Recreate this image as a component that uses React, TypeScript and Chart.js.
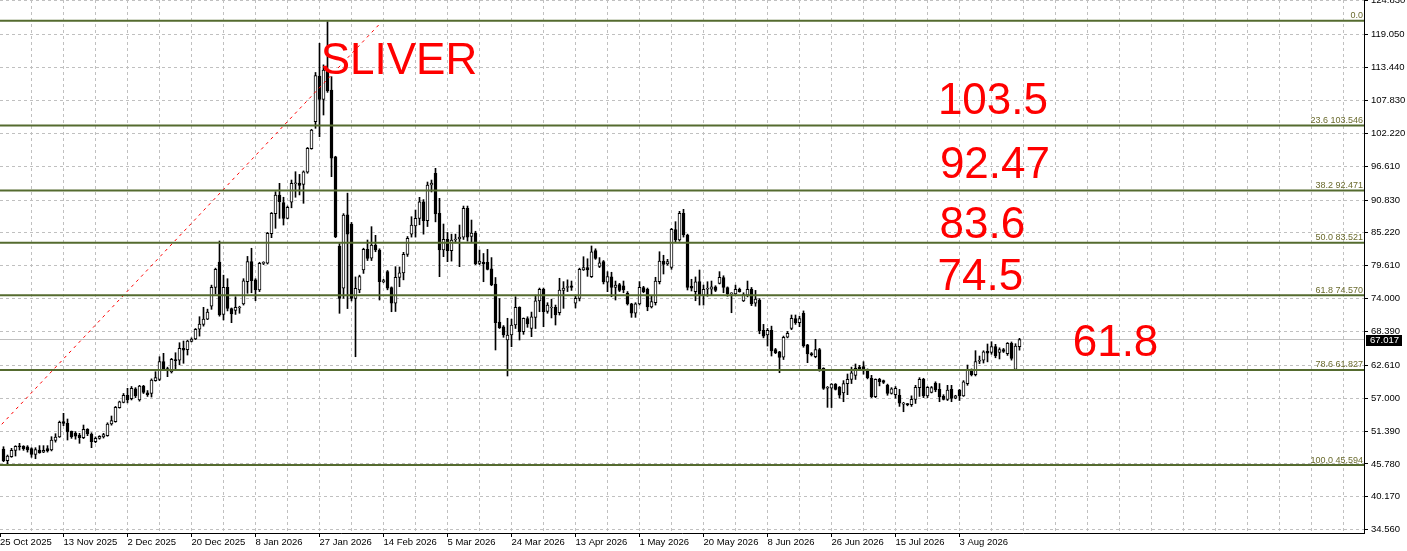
import React, { useEffect, useRef } from "react";
import { Chart, registerables } from "chart.js";

Chart.register(...registerables);

// ---- Candle data (one value per bar) ----
const opens = [
  48.33, 46.33, 47.01, 48.10, 48.79, 48.79, 48.70, 48.38, 47.42, 48.15,
  47.80, 48.40, 48.15, 49.80, 50.38, 53.00, 52.71, 51.35, 51.00, 50.71,
  50.25, 51.69, 50.89, 49.57, 50.15, 50.40, 50.60, 52.60, 53.00, 55.40,
  56.30, 57.50, 56.90, 58.60, 56.70, 59.08, 57.90, 57.80, 60.00, 60.20,
  63.23, 62.00, 61.50, 63.60, 63.50, 65.50, 65.30, 66.70, 67.10, 68.80,
  69.60, 70.50, 72.70, 75.90, 80.25, 71.30, 75.93, 72.30, 72.00, 72.40,
  73.10, 76.90, 80.30, 77.20, 75.50, 80.00, 80.03, 85.10, 88.50, 91.68,
  90.40, 87.70, 90.44, 93.60, 93.70, 93.50, 95.60, 99.60, 104.20, 112.00,
  108.00, 113.00, 109.60, 98.20, 82.98, 75.76, 88.30, 86.70, 74.05, 75.50,
  78.90, 82.40, 80.90, 83.15, 82.30, 76.90, 78.60, 75.90, 73.20, 77.60,
  78.40, 81.56, 85.00, 86.40, 87.70, 90.50, 87.30, 93.40, 95.39, 88.56,
  82.30, 84.10, 82.20, 84.00, 84.20, 84.50, 89.40, 84.60, 85.20, 80.00,
  80.20, 80.20, 79.10, 76.50, 70.00, 69.20, 66.93, 67.80, 69.50, 72.50,
  68.35, 70.60, 68.90, 70.80, 73.60, 75.60, 71.80, 72.40, 72.50, 71.60,
  75.40, 75.90, 76.20, 73.20, 74.05, 78.90, 79.30, 77.74, 82.20, 79.50,
  80.30, 76.80, 77.70, 75.90, 76.40, 76.20, 74.90, 73.10, 71.50, 73.10,
  75.90, 75.60, 72.60, 73.30, 76.90, 80.40, 79.90, 79.34, 85.80, 84.00,
  88.56, 84.86, 76.10, 75.20, 76.90, 74.60, 75.60, 75.60, 76.00, 76.60,
  77.60, 75.90, 74.80, 74.80, 75.60, 73.60, 74.60, 75.60, 73.20, 73.76,
  68.60, 67.80, 68.60, 65.30, 64.90, 64.00, 67.40, 68.90, 70.60, 69.90,
  71.50, 66.10, 64.60, 64.10, 65.30, 62.10, 58.70, 58.70, 59.40, 58.90,
  57.90, 59.50, 60.20, 60.90, 62.30, 62.40, 61.80, 60.40, 57.25, 60.20,
  60.00, 59.25, 57.80, 57.60, 57.50, 56.00, 56.00, 55.90, 56.80, 58.80,
  60.20, 57.40, 58.00, 59.60, 58.50, 57.30, 56.80, 58.50, 57.00, 58.40,
  57.40, 59.50, 61.80, 61.00, 63.30, 63.50, 65.00, 64.80, 65.80, 64.80,
  65.30, 64.60, 66.37, 61.93, 65.80,
];

const highs = [
  48.72, 47.30, 48.44, 48.89, 49.30, 48.90, 48.90, 48.55, 48.55, 48.90,
  48.90, 48.90, 50.43, 50.94, 53.10, 54.42, 53.45, 51.40, 51.30, 51.00,
  52.42, 51.80, 51.10, 50.40, 50.60, 51.00, 52.80, 53.96, 55.60, 56.50,
  57.80, 58.69, 59.00, 58.80, 59.20, 59.20, 58.30, 60.30, 61.52, 64.08,
  64.66, 62.30, 63.80, 64.76, 66.47, 66.76, 66.90, 67.30, 68.90, 70.91,
  72.51, 72.20, 76.30, 79.20, 83.83, 78.00, 77.40, 72.40, 74.32, 72.70,
  77.40, 81.20, 82.59, 77.40, 80.20, 80.30, 85.30, 88.70, 92.25, 93.68,
  91.30, 89.80, 94.24, 95.66, 95.20, 95.80, 99.80, 102.90, 112.60, 117.58,
  113.90, 121.27, 111.88, 98.30, 83.40, 88.50, 92.00, 87.00, 77.70, 78.00,
  82.60, 84.00, 86.28, 84.80, 82.50, 77.30, 78.80, 76.00, 79.45, 79.40,
  81.90, 84.60, 87.98, 89.12, 91.29, 90.90, 93.90, 94.24, 96.24, 91.12,
  86.73, 85.30, 85.00, 85.00, 86.56, 89.80, 89.80, 87.41, 85.50, 82.30,
  81.70, 82.40, 81.00, 77.60, 74.00, 69.40, 70.64, 70.50, 74.32, 72.60,
  70.70, 70.90, 71.70, 74.60, 75.80, 75.80, 73.30, 73.90, 72.90, 77.47,
  76.90, 77.20, 77.00, 74.60, 79.20, 81.15, 80.80, 82.98, 82.50, 81.00,
  80.50, 78.60, 78.50, 77.00, 76.60, 77.00, 75.20, 73.20, 73.30, 76.90,
  76.10, 75.80, 74.40, 77.64, 82.00, 81.40, 80.70, 86.00, 87.13, 88.90,
  89.24, 85.00, 77.30, 77.70, 78.88, 76.32, 76.88, 77.00, 76.20, 78.60,
  77.90, 76.00, 75.00, 76.30, 75.80, 75.00, 77.00, 75.90, 75.40, 74.00,
  69.60, 68.90, 69.30, 65.50, 65.00, 67.60, 68.40, 71.20, 71.20, 71.00,
  71.90, 66.20, 64.80, 67.05, 65.50, 62.20, 59.00, 59.50, 59.50, 59.00,
  60.00, 61.13, 62.30, 62.84, 62.60, 63.23, 62.00, 60.90, 60.30, 60.40,
  60.10, 59.40, 58.80, 59.00, 58.50, 56.30, 56.10, 57.40, 59.20, 60.50,
  60.40, 59.00, 59.00, 59.80, 59.50, 57.60, 59.20, 59.20, 57.50, 58.50,
  60.00, 62.66, 62.00, 65.11, 64.20, 65.10, 66.25, 66.64, 66.20, 65.60,
  65.50, 66.50, 66.60, 66.30, 67.22,
];

const lows = [
  46.16, 45.77, 46.91, 47.13, 48.15, 48.10, 47.80, 46.91, 46.67, 47.60,
  47.70, 47.80, 48.00, 49.50, 50.30, 52.30, 49.86, 50.15, 50.00, 49.30,
  50.10, 50.60, 48.55, 49.40, 50.00, 50.20, 50.50, 52.40, 52.90, 55.30,
  56.20, 56.20, 56.70, 57.10, 56.50, 57.80, 57.30, 57.20, 59.90, 60.00,
  61.70, 60.67, 61.30, 61.90, 62.70, 62.96, 64.37, 66.60, 67.00, 67.60,
  69.30, 70.40, 72.17, 74.80, 71.00, 70.35, 71.90, 69.89, 71.30, 71.50,
  72.90, 74.90, 75.00, 73.64, 75.20, 79.80, 79.90, 84.40, 86.00, 87.70,
  86.56, 87.60, 89.50, 91.30, 91.70, 90.27, 95.40, 99.50, 103.07, 101.63,
  105.34, 109.20, 94.81, 84.40, 71.49, 74.05, 72.30, 73.60, 64.08, 75.00,
  78.30, 80.50, 80.50, 82.00, 73.76, 76.70, 75.50, 71.76, 71.80, 76.03,
  77.20, 81.20, 84.50, 84.50, 86.60, 85.00, 86.30, 92.20, 87.10, 77.74,
  81.16, 80.30, 80.40, 83.50, 79.45, 84.10, 83.80, 83.60, 79.80, 79.80,
  76.88, 78.90, 76.20, 65.23, 68.90, 67.40, 60.79, 65.79, 68.90, 66.93,
  67.90, 69.10, 67.50, 68.90, 71.76, 69.20, 71.50, 70.70, 69.49, 71.20,
  72.34, 75.20, 75.40, 72.40, 73.60, 78.80, 77.80, 77.60, 80.70, 79.30,
  76.50, 75.18, 74.32, 73.76, 75.20, 75.00, 72.90, 70.80, 70.80, 72.90,
  75.00, 71.93, 72.40, 72.90, 76.50, 78.20, 79.70, 79.00, 83.70, 83.80,
  84.50, 75.47, 75.30, 73.64, 72.90, 72.90, 74.40, 74.60, 75.20, 76.50,
  75.00, 74.40, 71.59, 74.70, 75.10, 73.50, 74.30, 72.80, 72.70, 68.00,
  67.30, 65.90, 64.20, 64.60, 61.35, 63.60, 67.30, 68.70, 69.60, 69.20,
  65.70, 63.06, 64.20, 63.90, 61.60, 58.50, 55.44, 55.40, 58.40, 57.00,
  56.40, 57.60, 59.50, 60.20, 61.80, 61.10, 60.30, 57.10, 57.10, 59.10,
  59.50, 57.50, 57.70, 57.00, 55.60, 54.69, 55.70, 55.60, 56.10, 57.30,
  57.10, 57.10, 57.90, 58.10, 56.40, 56.70, 56.60, 56.40, 56.90, 56.60,
  57.30, 59.20, 60.80, 60.80, 62.90, 63.00, 63.20, 64.50, 63.90, 63.70,
  64.80, 64.30, 63.50, 61.90, 65.20,
];

const closes = [
  46.33, 47.13, 48.10, 48.79, 48.70, 48.38, 48.15, 47.42, 48.21, 47.69,
  48.10, 48.00, 49.86, 50.38, 52.88, 52.70, 51.23, 50.43, 50.50, 50.25,
  51.69, 50.89, 49.57, 50.15, 50.50, 50.80, 52.59, 53.16, 55.44, 56.40,
  57.50, 56.70, 58.70, 57.37, 59.08, 58.00, 57.60, 60.10, 60.50, 63.23,
  62.00, 61.90, 63.64, 63.40, 65.51, 65.20, 66.76, 67.10, 68.76, 69.66,
  70.52, 71.71, 75.93, 79.00, 71.20, 75.93, 72.34, 71.37, 72.50, 72.50,
  77.05, 80.30, 77.05, 75.50, 80.03, 80.10, 85.15, 88.56, 91.68, 90.54,
  87.70, 89.58, 93.68, 93.70, 93.30, 95.66, 99.66, 102.78, 112.05, 108.02,
  113.02, 109.44, 97.95, 84.57, 74.05, 88.27, 85.00, 74.05, 75.76, 77.74,
  82.41, 80.88, 83.15, 82.30, 76.88, 77.00, 75.76, 73.20, 77.64, 78.42,
  81.56, 84.29, 86.56, 87.70, 90.54, 87.30, 93.39, 93.70, 88.44, 82.30,
  84.12, 82.18, 84.00, 84.10, 84.50, 89.41, 84.50, 85.20, 79.90, 80.40,
  79.90, 79.00, 76.32, 69.89, 69.03, 67.80, 67.79, 69.49, 72.51, 68.35,
  70.64, 69.66, 70.90, 73.64, 75.59, 71.76, 72.90, 72.50, 71.20, 75.47,
  75.80, 76.00, 75.90, 74.05, 79.00, 79.30, 78.90, 82.00, 80.88, 80.10,
  76.83, 77.74, 75.93, 76.30, 75.40, 75.50, 73.08, 71.50, 73.10, 75.93,
  75.20, 72.60, 73.50, 77.00, 80.42, 79.85, 80.30, 85.83, 84.00, 88.56,
  84.86, 75.93, 75.80, 76.88, 74.60, 75.60, 75.70, 76.00, 75.40, 77.64,
  75.93, 74.80, 74.90, 75.60, 75.20, 74.70, 75.60, 73.08, 73.90, 68.52,
  67.60, 68.60, 65.06, 64.77, 63.97, 67.40, 68.08, 70.64, 69.90, 70.60,
  65.91, 64.55, 64.40, 65.30, 61.81, 58.69, 58.80, 59.40, 58.50, 57.50,
  59.50, 60.20, 61.35, 62.10, 61.90, 61.80, 60.50, 57.25, 60.20, 59.80,
  59.70, 57.83, 58.60, 58.70, 56.13, 56.10, 55.90, 56.80, 58.86, 60.20,
  57.37, 58.86, 58.80, 58.40, 57.25, 56.80, 58.40, 56.96, 57.40, 57.40,
  59.80, 61.81, 61.00, 63.23, 63.40, 64.93, 64.70, 65.79, 64.20, 65.30,
  65.00, 66.37, 63.80, 65.90, 67.017,
];

// ---- Axis labels ----
const dateLabels = [
  "25 Oct 2025", "13 Nov 2025", "2 Dec 2025", "20 Dec 2025", "8 Jan 2026",
  "27 Jan 2026", "14 Feb 2026", "5 Mar 2026", "24 Mar 2026", "13 Apr 2026",
  "1 May 2026", "20 May 2026", "8 Jun 2026", "26 Jun 2026", "15 Jul 2026",
  "3 Aug 2026",
];

const priceTicks = [
  124.83, 119.05, 113.44, 107.83, 102.22, 96.61, 90.83, 85.22, 79.61,
  74.0, 68.39, 62.61, 57.0, 51.39, 45.78, 40.17, 34.56,
];

// ---- Fibonacci retracement ----
const fibValues = [121.44, 103.546, 92.471, 83.521, 74.57, 61.827, 45.594];
const fibTexts = [
  "0.0", "23.6 103.546", "38.2 92.471", "50.0 83.521", "61.8 74.570",
  "78.6 61.827", "100.0 45.594",
];
const fibTrendX = [-9.05, 95.2];
const fibTrendY = [45.594, 121.0];

const currentPrice = 67.017;

// ---- Red annotations ----
const noteTexts = ["SLIVER", "103.5", "92.47", "83.6", "74.5", "61.8"];
const noteX = [80.3, 234.6, 235.1, 235.0, 234.5, 268.3];
const noteY = [112.34, 105.51, 94.59, 84.34, 75.47, 64.2];

const FONT = '"Liberation Sans", Arial, sans-serif';
const X_MIN = 0.125;
const X_MAX = 341.125;
const Y_MIN = 33.99;
const Y_MAX = 124.97;

export default function App() {
  const ref = useRef<HTMLCanvasElement | null>(null);

  useEffect(() => {
    const canvas = ref.current;
    if (!canvas) return;

    const idx = closes.map((_, k) => k + 1);
    const wickData = idx.map((x, k) => ({ x, y: [lows[k], highs[k]] }));
    const bodyData = idx.map((x, k) => ({ x, y: [opens[k], closes[k]] }));
    const bodyColors = idx.map((_, k) =>
      closes[k] >= opens[k] ? "#ffffff" : "#000000"
    );

    const labelAt: Record<string, string> = {};
    const xTicks: number[] = [];
    for (let v = 0; v <= X_MAX; v += 8) {
      const val = v === 0 ? X_MIN : v;
      xTicks.push(val);
      const li = v / 16;
      if (v % 16 === 0 && li < dateLabels.length) labelAt[String(val)] = dateLabels[li];
    }

    const fibSets = fibValues.map((v) => ({
      type: "line",
      data: [
        { x: X_MIN, y: v },
        { x: X_MAX, y: v },
      ],
      borderColor: "#556b2f",
      borderWidth: 2,
      pointRadius: 0,
      tension: 0,
      order: 1,
    }));

    const annotPlugin = {
      id: "annot",
      afterDatasetsDraw(chart: any) {
        const { ctx, chartArea, scales } = chart;
        const ys = scales.y;
        const xs = scales.x;
        ctx.save();
        // fib level labels
        ctx.font = `9px ${FONT}`;
        ctx.fillStyle = "#6b6b2e";
        ctx.textAlign = "right";
        ctx.textBaseline = "alphabetic";
        fibValues.forEach((v, k) => {
          ctx.fillText(fibTexts[k], chartArea.right - 1, ys.getPixelForValue(v) - 2.5);
        });
        // red notes
        ctx.font = `44px ${FONT}`;
        ctx.fillStyle = "#ff0000";
        ctx.textAlign = "left";
        noteTexts.forEach((t, k) => {
          ctx.fillText(t, xs.getPixelForValue(noteX[k]), ys.getPixelForValue(noteY[k]));
        });
        // current price box
        const py = ys.getPixelForValue(currentPrice);
        ctx.fillStyle = "#000000";
        ctx.fillRect(chartArea.right + 2, Math.round(py - 5), 36, 11);
        ctx.fillStyle = "#ffffff";
        ctx.font = `9.5px ${FONT}`;
        ctx.textBaseline = "middle";
        ctx.fillText(currentPrice.toFixed(3), chartArea.right + 6, py + 0.5);
        ctx.restore();
      },
    };

    const chart = new Chart(canvas, {
      type: "bar",
      data: {
        datasets: [
          ...fibSets,
          {
            type: "line",
            data: [
              { x: fibTrendX[0], y: fibTrendY[0] },
              { x: fibTrendX[1], y: fibTrendY[1] },
            ],
            borderColor: "#ff0000",
            borderWidth: 1,
            borderDash: [3, 4],
            pointRadius: 0,
            tension: 0,
            order: 2,
          },
          {
            type: "bar",
            data: bodyData,
            backgroundColor: bodyColors,
            borderColor: "#000000",
            borderWidth: 1,
            borderSkipped: false,
            barThickness: 3,
            minBarLength: 1,
            grouped: false,
            order: 4,
          },
          {
            type: "bar",
            data: wickData,
            backgroundColor: "#000000",
            borderWidth: 0,
            barThickness: 1,
            grouped: false,
            order: 5,
          },
          {
            type: "line",
            data: [
              { x: X_MIN, y: currentPrice },
              { x: X_MAX, y: currentPrice },
            ],
            borderColor: "#c0c0c0",
            borderWidth: 1,
            pointRadius: 0,
            order: 6,
          },
        ] as any,
      },
      options: {
        responsive: false,
        animation: false,
        devicePixelRatio: 1,
        events: [],
        layout: { padding: 0 },
        plugins: {
          legend: { display: false },
          tooltip: { enabled: false },
          title: { display: false },
        },
        scales: {
          x: {
            type: "linear",
            position: "bottom",
            min: X_MIN,
            max: X_MAX,
            offset: false,
            grid: {
              offset: false,
              color: (c: any) => (c.tick && c.tick.value === X_MIN ? "rgba(0,0,0,0)" : "#c0c0c0"),
              lineWidth: 1,
              drawTicks: true,
              tickLength: 4,
              tickWidth: 1,
              tickBorderDash: [],
              tickColor: (c: any) =>
                c.tick && labelAt[String(c.tick.value)] ? "#000000" : "rgba(0,0,0,0)",
            },
            border: { display: true, color: "#000000", width: 1, dash: [3, 3] },
            ticks: {
              autoSkip: false,
              maxRotation: 0,
              minRotation: 0,
              align: "start",
              padding: 0,
              color: "#000000",
              font: { family: FONT, size: 9.5 },
              callback: (v: any) => labelAt[String(v)] || "",
            },
            afterBuildTicks: (s: any) => {
              s.ticks = xTicks.map((value) => ({ value }));
            },
            afterFit: (s: any) => {
              s.height = 18;
              s.paddingLeft = 0;
              s.paddingRight = 0;
            },
          },
          y: {
            type: "linear",
            position: "right",
            min: Y_MIN,
            max: Y_MAX,
            beginAtZero: false,
            grid: {
              color: "#c0c0c0",
              lineWidth: 1,
              drawTicks: true,
              tickLength: 4,
              tickWidth: 1,
              tickBorderDash: [],
              tickColor: "#000000",
            },
            border: { display: true, color: "#000000", width: 1, dash: [3, 3] },
            ticks: {
              padding: 3,
              color: "#000000",
              font: { family: FONT, size: 9.5 },
              callback: (v: any) => Number(v).toFixed(3),
            },
            afterBuildTicks: (s: any) => {
              s.ticks = priceTicks.map((value) => ({ value }));
            },
            afterFit: (s: any) => {
              s.width = 43;
              s.paddingTop = 0;
              s.paddingBottom = 0;
            },
          },
        },
      } as any,
      plugins: [annotPlugin],
    });

    return () => chart.destroy();
  }, []);

  return (
    <div
      style={{
        position: "fixed",
        left: 0,
        top: 0,
        width: 1407,
        height: 551,
        background: "#ffffff",
      }}
    >
      <canvas
        ref={ref}
        width={1407}
        height={551}
        style={{ display: "block", width: 1407, height: 551 }}
      />
    </div>
  );
}
